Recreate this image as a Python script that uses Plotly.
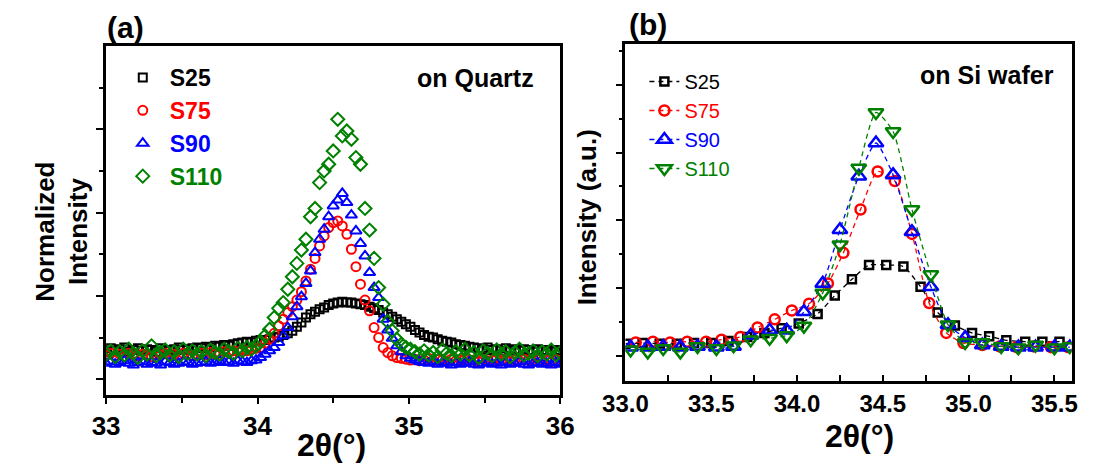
import plotly.graph_objects as go

# ---------------- Panel (a): on Quartz ----------------
theta_a = [33.00, 33.03, 33.06, 33.09, 33.12, 33.15, 33.18, 33.21, 33.24, 33.27,
           33.30, 33.33, 33.36, 33.39, 33.42, 33.45, 33.48, 33.51, 33.54, 33.57,
           33.60, 33.63, 33.66, 33.69, 33.72, 33.75, 33.78, 33.81, 33.84, 33.87,
           33.90, 33.93, 33.96, 33.99, 34.02, 34.05, 34.08, 34.11, 34.14, 34.17,
           34.20, 34.23, 34.26, 34.29, 34.32, 34.35, 34.38, 34.41, 34.44, 34.47,
           34.50, 34.53, 34.56, 34.59, 34.62, 34.65, 34.68, 34.71, 34.74, 34.77,
           34.80, 34.83, 34.86, 34.89, 34.92, 34.95, 34.98, 35.01, 35.04, 35.07,
           35.10, 35.13, 35.16, 35.19, 35.22, 35.25, 35.28, 35.31, 35.34, 35.37,
           35.40, 35.43, 35.46, 35.49, 35.52, 35.55, 35.58, 35.61, 35.64, 35.67,
           35.70, 35.73, 35.76, 35.79, 35.82, 35.85, 35.88, 35.91, 35.94, 35.97,
           36.00]

a_s25 = [0.33, 0.37, 0.34, 0.36, 0.38, 0.33, 0.35, 0.37, 0.34, 0.36,
         0.35, 0.33, 0.37, 0.35, 0.34, 0.36, 0.38, 0.35, 0.36, 0.37,
         0.38, 0.37, 0.39, 0.38, 0.40, 0.39, 0.41, 0.40, 0.42, 0.43,
         0.44, 0.45, 0.44, 0.46,
         0.47, 0.47, 0.48, 0.50, 0.51, 0.53, 0.55, 0.58, 0.63, 0.68, 0.74, 0.78, 0.81, 0.84, 0.86, 0.89,
         0.91, 0.92, 0.93, 0.92, 0.92, 0.91, 0.90, 0.89, 0.87, 0.85, 0.83, 0.80, 0.78, 0.75, 0.72, 0.69, 0.66,
         0.63, 0.59, 0.56, 0.53, 0.51, 0.50, 0.48, 0.46, 0.45, 0.44, 0.42, 0.41, 0.40, 0.39, 0.38,
         0.37, 0.36, 0.38, 0.35, 0.36, 0.34, 0.37, 0.35, 0.36, 0.34, 0.36, 0.35, 0.33, 0.36, 0.34, 0.35, 0.33, 0.35, 0.34]

a_s75 = [0.29, 0.31, 0.28, 0.30, 0.27, 0.31, 0.29, 0.28, 0.30, 0.29,
         0.27, 0.30, 0.29, 0.31, 0.28, 0.30, 0.29, 0.31, 0.30, 0.28,
         0.30, 0.31, 0.29, 0.32, 0.30, 0.31, 0.33, 0.32, 0.34, 0.33,
         0.35, 0.34, 0.36, 0.37,
         0.38, 0.43, 0.48, 0.55, 0.64, 0.72, 0.80, 0.87, 0.95, 1.05, 1.18, 1.32, 1.45, 1.60, 1.72, 1.82,
         1.88, 1.90, 1.84, 1.74, 1.56, 1.35, 1.14, 0.95, 0.82, 0.62, 0.50, 0.38, 0.32, 0.28, 0.26, 0.25, 0.24,
         0.23, 0.24, 0.22, 0.23, 0.25, 0.22, 0.24, 0.23, 0.21, 0.24, 0.22, 0.23, 0.25, 0.22, 0.23, 0.21, 0.24,
         0.22, 0.23, 0.25, 0.22, 0.24, 0.21, 0.23, 0.22, 0.24, 0.23, 0.21, 0.24, 0.22, 0.23, 0.21, 0.24, 0.22]

a_s90 = [0.19, 0.21, 0.18, 0.20, 0.22, 0.19, 0.17, 0.20, 0.21, 0.18,
         0.20, 0.19, 0.17, 0.21, 0.20, 0.18, 0.19, 0.21, 0.20, 0.18,
         0.19, 0.20, 0.21, 0.19, 0.20, 0.22, 0.20, 0.21, 0.19, 0.22,
         0.21, 0.20, 0.22, 0.23,
         0.26, 0.30, 0.34, 0.38, 0.44, 0.52, 0.62, 0.75, 0.87, 0.99, 1.15, 1.30, 1.52, 1.68, 1.80, 1.95,
         2.08, 2.15, 2.23, 2.12, 1.97, 1.78, 1.63, 1.48, 1.28, 1.10, 0.98, 0.72, 0.59, 0.49, 0.40, 0.33, 0.28,
         0.25, 0.23,
         0.21, 0.20, 0.19, 0.21, 0.18, 0.20, 0.19, 0.17, 0.20, 0.18,
         0.19, 0.21, 0.18, 0.17, 0.19, 0.20, 0.18, 0.19, 0.17, 0.20,
         0.18, 0.19, 0.21, 0.18, 0.17, 0.19, 0.20, 0.18, 0.19, 0.17,
         0.20, 0.18]

a_s110 = [0.30, 0.34, 0.27, 0.33, 0.29, 0.36, 0.31, 0.26, 0.34, 0.30,
          0.40, 0.28, 0.32, 0.35, 0.29, 0.33, 0.27, 0.36, 0.31, 0.34,
          0.30, 0.33, 0.28, 0.35, 0.32, 0.30, 0.36, 0.33, 0.31, 0.37,
          0.34, 0.38, 0.36,
          0.40, 0.45, 0.52, 0.60, 0.74, 0.85, 0.92, 1.08, 1.23, 1.39, 1.55, 1.68, 1.95, 2.05, 2.36, 2.50, 2.58,
          2.74, 3.12, 2.92, 2.98, 2.88, 2.66, 2.58, 2.05, 1.79, 1.45, 1.10, 0.90, 0.69, 0.58, 0.48, 0.42, 0.38,
          0.36,
          0.33, 0.30, 0.34, 0.29, 0.32, 0.27, 0.35, 0.31, 0.28, 0.33,
          0.30, 0.36, 0.29, 0.32, 0.26, 0.34, 0.31, 0.28, 0.35, 0.30,
          0.33, 0.27, 0.32, 0.36, 0.29, 0.31, 0.34, 0.28, 0.33, 0.30,
          0.35, 0.29, 0.32]

# ---------------- Panel (b): on Si wafer ----------------
theta_b_s25 = [33.00, 33.10, 33.20, 33.30, 33.40, 33.50, 33.60, 33.71, 33.81, 33.91,
               34.01, 34.12, 34.22, 34.32, 34.42, 34.52, 34.62, 34.72, 34.82, 34.92,
               35.02, 35.12, 35.22, 35.33, 35.43, 35.53]
b_s25 = [0.18, 0.19, 0.18, 0.18, 0.19, 0.19, 0.22, 0.28, 0.34, 0.41,
         0.48, 0.62, 0.89, 1.13, 1.34, 1.34, 1.32, 1.02, 0.64, 0.45,
         0.34, 0.29, 0.23, 0.21, 0.21, 0.21]

theta_b_s75 = [33.06, 33.16, 33.26, 33.36, 33.47, 33.56, 33.67, 33.77, 33.87, 33.97,
               34.07, 34.18, 34.27, 34.37, 34.47, 34.57, 34.67, 34.77, 34.87, 34.97,
               35.08, 35.18, 35.28, 35.38, 35.48, 35.58]
b_s75 = [0.20, 0.21, 0.20, 0.21, 0.21, 0.24, 0.28, 0.42, 0.54, 0.67,
         0.77, 1.07, 1.52, 2.16, 2.72, 2.58, 1.80, 0.78, 0.34, 0.19,
         0.16, 0.14, 0.13, 0.14, 0.13, 0.13]

theta_b_s90 = [33.03, 33.13, 33.22, 33.32, 33.42, 33.53, 33.63, 33.73, 33.84, 33.94,
               34.04, 34.15, 34.25, 34.36, 34.46, 34.56, 34.67, 34.78, 34.88, 34.98,
               35.08, 35.19, 35.29, 35.39, 35.50, 35.59]
b_s90 = [0.13, 0.13, 0.14, 0.13, 0.14, 0.13, 0.14, 0.30, 0.38, 0.38,
         0.65, 1.07, 1.86, 2.65, 3.14, 2.67, 1.83, 1.02, 0.46, 0.27,
         0.16, 0.14, 0.13, 0.13, 0.13, 0.13]

theta_b_s110 = [33.03, 33.13, 33.22, 33.32, 33.42, 33.53, 33.63, 33.73, 33.84, 33.94,
                34.04, 34.15, 34.25, 34.36, 34.46, 34.56, 34.67, 34.78, 34.88, 34.98,
                35.08, 35.19, 35.29, 35.39, 35.50, 35.59]
b_s110 = [0.09, 0.06, 0.11, 0.06, 0.14, 0.11, 0.15, 0.24, 0.26, 0.30,
          0.44, 0.93, 1.64, 2.77, 3.59, 3.31, 2.16, 1.20, 0.46, 0.20,
          0.20, 0.14, 0.12, 0.16, 0.12, 0.14]

names = ["S25", "S75", "S90", "S110"]
colors = ["#000000", "#FF0000", "#0000FF", "#008000"]

FONT = "Liberation Sans, Arial, sans-serif"
W, H = 1101, 468

fig = go.Figure()

# Panel (a) traces (markers only)
sym_a = ["square-open", "circle-open", "triangle-up-open", "diamond-open"]
size_a = [8, 9, 10, 10]
for nm, col, ys, sym, sz in zip(names, colors, [a_s25, a_s75, a_s90, a_s110], sym_a, size_a):
    fig.add_trace(go.Scatter(
        x=theta_a, y=ys, mode="markers",
        name=f"<span style='color:{col}'>{nm}</span>",
        marker=dict(symbol=sym, size=sz, color=col, line=dict(width=2, color=col)),
        xaxis="x", yaxis="y", legend="legend", cliponaxis=True))

# Panel (b) traces (dashed lines + markers)
sym_b = ["square-open", "circle-open", "triangle-up-open", "triangle-down-open"]
size_b = [8, 10, 13, 13]
xs_b = [theta_b_s25, theta_b_s75, theta_b_s90, theta_b_s110]
ys_b = [b_s25, b_s75, b_s90, b_s110]
for nm, col, xs, ys, sym, sz in zip(names, colors, xs_b, ys_b, sym_b, size_b):
    fig.add_trace(go.Scatter(
        x=xs, y=ys, mode="lines+markers",
        name=f"<span style='color:{col}'>{nm}</span>",
        line=dict(color=col, width=1.3, dash="5px,4px", shape="spline", smoothing=0.6),
        marker=dict(symbol=sym, size=sz, color=col, line=dict(width=2.5, color=col)),
        xaxis="x2", yaxis="y2", legend="legend2"))

axis_common = dict(showline=True, linecolor="black", linewidth=2.5, mirror=True,
                   showgrid=False, zeroline=False, tickcolor="black", tickwidth=2)

fig.update_layout(
    width=W, height=H,
    margin=dict(l=0, r=0, t=0, b=0),
    paper_bgcolor="white", plot_bgcolor="white",
    font=dict(family=FONT, color="black"),
    xaxis=dict(domain=[86 / W, 556 / W], range=[33, 36], anchor="y",
               tickvals=[33, 34, 35, 36], ticks="outside", ticklen=6,
               minor=dict(tickvals=[33.5, 34.5, 35.5], ticks="outside", ticklen=5,
                          tickcolor="black", tickwidth=2),
               tickfont=dict(family=FONT, size=26, weight="bold"),
               **axis_common),
    yaxis=dict(domain=[(H - 395) / H, (H - 46) / H], range=[-0.19, 4.0], anchor="x",
               tickvals=[0, 1, 2, 3], ticks="outside", ticklen=7, showticklabels=False,
               minor=dict(tickvals=[0.5, 1.5, 2.5, 3.5], ticks="outside", ticklen=4,
                          tickcolor="black", tickwidth=2),
               **axis_common),
    xaxis2=dict(domain=[623.4 / W, 1085 / W], range=[33.0, 35.6], anchor="y2",
                tickvals=[33.0, 33.5, 34.0, 34.5, 35.0, 35.5], tickformat=".1f",
                ticks="inside", ticklen=6,
                minor=dict(tickvals=[33.25, 33.75, 34.25, 34.75, 35.25], ticks="inside",
                           ticklen=6, tickcolor="black", tickwidth=2),
                tickfont=dict(family=FONT, size=24, weight="bold"),
                **axis_common),
    yaxis2=dict(domain=[(H - 380.7) / H, (H - 44) / H], range=[-0.365, 4.6], anchor="x2",
                tickvals=[0, 1, 2, 3, 4], ticks="outside", ticklen=7, showticklabels=False,
                minor=dict(tickvals=[0.5, 1.5, 2.5, 3.5, 4.5], ticks="outside", ticklen=4,
                           tickcolor="black", tickwidth=2),
                **axis_common),
    legend=dict(x=96 / W, y=(H - 56) / H, xanchor="left", yanchor="top",
                bgcolor="rgba(0,0,0,0)", itemwidth=44,
                font=dict(family=FONT, size=23, weight="bold", color="black"),
                tracegroupgap=0),
    legend2=dict(x=643 / W, y=(H - 62) / H, xanchor="left", yanchor="top",
                 bgcolor="rgba(0,0,0,0)",
                 font=dict(family=FONT, size=20, color="black"),
                 tracegroupgap=0),
    showlegend=True,
)

ann = []
def add_text(text, x_px, y_px, size, xanchor="center", yanchor="middle", angle=0):
    ann.append(dict(text=text, x=x_px / W, y=(H - y_px) / H, xref="paper", yref="paper",
                    xanchor=xanchor, yanchor=yanchor, showarrow=False, textangle=angle,
                    font=dict(family=FONT, size=size, color="black", weight="bold")))

add_text("(a)", 85, 27, 30, xanchor="left")
add_text("(b)", 625, 24, 30, xanchor="left")
add_text("on Quartz", 531, 78, 25, xanchor="right")
add_text("on Si wafer", 1069, 75, 25, xanchor="right")
add_text("2θ(°)", 319, 445, 32)
add_text("2θ(°)", 866, 436, 32)
add_text("Normalized<br>Intensity", 40, 232, 26, angle=-90)
add_text("Intensity (a.u.)", 584, 217, 26, angle=-90)
fig.update_layout(annotations=ann)

fig.write_html("out.html")
